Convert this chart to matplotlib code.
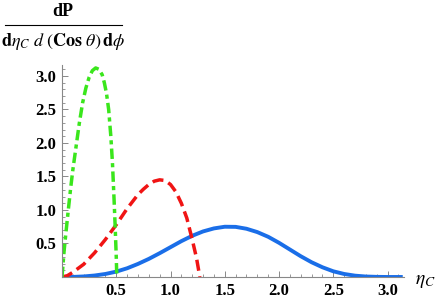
import matplotlib.pyplot as plt
import numpy as np

plt.rcParams['mathtext.fontset'] = 'stix'
plt.rcParams['font.family'] = 'Liberation Serif'

# values
green_x = [0.0, 0.02, 0.04, 0.06, 0.08, 0.10, 0.13, 0.16, 0.19, 0.22, 0.25, 0.28, 0.31,
           0.34, 0.37, 0.39, 0.41, 0.43, 0.45, 0.465, 0.48, 0.49, 0.50, 0.505]
green_y = [0.0, 0.40, 0.72, 1.03, 1.33, 1.60, 1.95, 2.30, 2.60, 2.82, 2.98, 3.08, 3.12,
           3.10, 3.02, 2.90, 2.74, 2.50, 2.10, 1.70, 1.15, 0.75, 0.30, 0.0]

red_x = [0.0, 0.05, 0.10, 0.20, 0.30, 0.40, 0.50, 0.60, 0.70, 0.75, 0.80, 0.85, 0.90,
         0.95, 1.00, 1.05, 1.10, 1.15, 1.20, 1.24, 1.27]
red_y = [0.0, 0.02, 0.07, 0.19, 0.36, 0.56, 0.78, 1.02, 1.23, 1.31, 1.38, 1.43, 1.45,
         1.44, 1.38, 1.27, 1.10, 0.88, 0.56, 0.28, 0.0]

blue_x = [0.0, 0.1, 0.2, 0.3, 0.4, 0.5, 0.6, 0.7, 0.8, 0.9, 1.0, 1.1, 1.2, 1.3, 1.4,
          1.5, 1.6, 1.7, 1.8, 1.9, 2.0, 2.1, 2.2, 2.3, 2.4, 2.5, 2.6, 2.7, 2.8, 2.9,
          3.0, 3.14]
blue_y = [0.0, 0.001, 0.008, 0.022, 0.045, 0.08, 0.13, 0.195, 0.27, 0.355, 0.445, 0.535,
          0.615, 0.68, 0.725, 0.75, 0.748, 0.72, 0.67, 0.60, 0.51, 0.41, 0.31, 0.22,
          0.145, 0.085, 0.045, 0.02, 0.007, 0.002, 0.0, 0.0]

fig = plt.figure(figsize=(4.36, 3.0), dpi=100)
ax = fig.add_axes([0.1422, 0.0767, 0.784, 0.708])

ax.plot(blue_x, blue_y, color='#1a6ee8', lw=2.8, solid_capstyle='butt')
ax.plot(red_x, red_y, color='#f01414', lw=2.5, dashes=(3.2, 1.6))
ax.plot(green_x, green_y, color='#3ae61c', lw=2.5, dashes=(3.0, 1.2, 1.2, 1.2))

ax.set_xlim(0, 3.15)
ax.set_ylim(0, 3.17)

for s in ['top', 'right']:
    ax.spines[s].set_visible(False)
for s in ['left', 'bottom']:
    ax.spines[s].set_color('#888888')
    ax.spines[s].set_linewidth(0.8)

ticks = [0.5, 1.0, 1.5, 2.0, 2.5, 3.0]
labels = ['0.5', '1.0', '1.5', '2.0', '2.5', '3.0']
ax.set_xticks(ticks)
ax.set_yticks(ticks)
ax.set_xticklabels(labels, fontweight='bold', fontsize=12)
ax.set_yticklabels(labels, fontweight='bold', fontsize=12)
ax.set_xticks(np.arange(0.1, 3.15, 0.1), minor=True)
ax.set_yticks(np.arange(0.1, 3.17, 0.1), minor=True)
ax.tick_params(which='major', direction='in', length=4, width=0.7, color='#888888', pad=4)
ax.tick_params(which='minor', direction='in', length=2, width=0.6, color='#888888')

# axis labels
ax.text(3.25, -0.07, r'$\eta_C$', fontsize=14, ha='left', va='center', clip_on=False)
fig.text(63 / 436, 1 - 12 / 300, 'dP', fontsize=13, fontweight='bold', ha='center', va='center')
fig.add_artist(plt.Line2D([5 / 436, 122 / 436], [1 - 25 / 300, 1 - 25 / 300], color='black', lw=0.8))
fig.text(63 / 436, 1 - 41 / 300,
         r'$\mathbf{d}\eta_C\ d\ (\mathbf{Cos}\ \theta)\,\mathbf{d}\phi$',
         fontsize=13, ha='center', va='center')

fig.savefig('out.png', dpi=100)
